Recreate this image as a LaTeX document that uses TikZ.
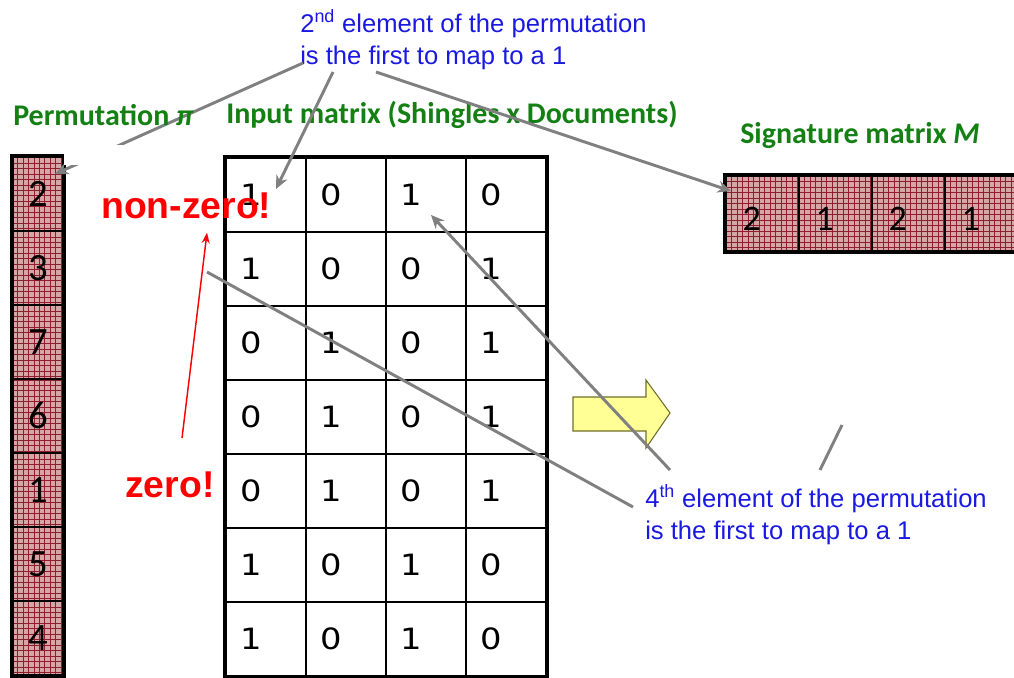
\documentclass[tikz,border=0pt]{standalone}
\usepackage{fontspec}
\setmainfont{Liberation Sans}
\newfontfamily\headfont{Carlito}
\newfontfamily\digitfont[FakeStretch=1.15]{DejaVu Sans}
\usetikzlibrary{arrows.meta, positioning, calc}
\definecolor{headgreen}{RGB}{20,128,20}
\definecolor{noteblue}{RGB}{25,25,225}
\definecolor{cellpink}{RGB}{214,166,166}
\definecolor{cellred}{RGB}{140,30,45}
\definecolor{linegray}{RGB}{128,128,128}
\definecolor{arrowyellow}{RGB}{255,255,150}
\definecolor{arrowolive}{RGB}{110,110,40}

\begin{document}
\begin{tikzpicture}[
    x=0.75pt, y=-0.75pt,
    hatched/.style={path picture={
        \fill[cellpink] (path picture bounding box.south west) rectangle (path picture bounding box.north east);
        \draw[cellred, line width=0.25pt, step=4.1pt] (path picture bounding box.south west) grid (path picture bounding box.north east);}},
    permcell/.style={hatched, draw=black, line width=1.5pt, minimum width=37.5pt, minimum height=55.5pt, inner sep=0pt, font=\headfont\fontsize{29}{29}\selectfont},
    sigcell/.style={hatched, draw=black, line width=1.5pt, minimum width=54.75pt, minimum height=56.25pt, text width=30pt, text height=26pt, align=left, inner sep=0pt, font=\headfont\fontsize{27}{27}\selectfont},
    mcell/.style={draw=black, line width=1.5pt, minimum width=60pt, minimum height=55.5pt, text width=38pt, align=left, inner sep=0pt, font=\digitfont\fontsize{22}{22}\selectfont},
    headlbl/.style={font=\headfont\bfseries\fontsize{22.5}{22.5}\selectfont, text=headgreen, inner sep=0pt},
    note/.style={font=\fontsize{19.2}{24}\selectfont, text=noteblue, align=left, inner sep=0pt},
    redlbl/.style={font=\bfseries\fontsize{28}{28}\selectfont, text=red, inner sep=0pt},
    grayarrow/.style={draw=linegray, line width=2.2pt, -{Stealth[length=10pt, width=9pt]}},
    grayline/.style={draw=linegray, line width=2.2pt},
    redarrow/.style={draw=red, line width=1.1pt, -{Stealth[length=8pt, width=6pt]}}
]
\useasboundingbox (0,0) rectangle (1014,678);

% Permutation column
\foreach \v [count=\i] in {2,3,7,6,1,5,4}
  \node[permcell] (p\i) at (38,{120+74*\i}) {\v};
\draw[line width=3pt] (p1.north west) rectangle (p7.south east);

% Input matrix
\foreach \row [count=\r] in {{1,0,1,0},{1,0,0,1},{0,1,0,1},{0,1,0,1},{0,1,0,1},{1,0,1,0},{1,0,1,0}}
  \foreach \v [count=\c] in \row
    \node[mcell] (m\r\c) at ({186+80*\c},{121+74*\r}) {\v};
\draw[line width=3pt] (m11.north west) rectangle (m74.south east);

% Signature matrix
\foreach \v [count=\j] in {2,1,2,1}
  \node[sigcell] (s\j) at ({689.5+73*\j},213.5) {\v};
\draw[line width=3pt] (s1.north west) rectangle (s4.south east);

% Headings
\node[headlbl, anchor=base west] (inlbl) at (226,123) {Input matrix (Shingles x Documents)};
\node[headlbl, anchor=base west] (siglbl) at (740,143) {Signature matrix \textit{M}};

% Big arrow
\draw[fill=arrowyellow, draw=arrowolive, line width=0.8pt] (573,397) -- (646,397) -- (646,380) -- (670,413) -- (646,448) -- (646,431) -- (573,431) -- cycle;

% Notes
\node[note, anchor=north west] (note2) at (300,9) {2\textsuperscript{nd} element of the permutation\\is the first to map to a 1};
\node[note, anchor=north west] (note4) at (645,484) {4\textsuperscript{th} element of the permutation\\is the first to map to a 1};

% Pointers
\coordinate (n2a) at (303,63);
\coordinate (n2b) at (333,72);
\coordinate (n2c) at (376,72);
\coordinate (n4a) at (670,470);
\coordinate (n4b) at (633,507);
\coordinate (n4c) at (820,470);
\coordinate (n4d) at (842,425);
\coordinate (zz) at (207,272);
\draw[grayarrow] (n2a) -- ($(p1.north west)+(43,18)$);
\draw[grayarrow] (n2b) -- ($(m11.north west)+(51,32)$);
\draw[grayarrow] (n2c) -- ($(s1.north west)+(6,16)$);
\draw[grayarrow] (n4a) -- ($(m13.north west)+(46,58)$);
\draw[grayline] (n4b) -- (zz);
\draw[grayline] (n4c) -- (n4d);
\fill[white] (64,145) rectangle (222,165);

\node[headlbl, anchor=base west] (permlbl) at (13,125) {Permutation \textit{π}};

% Zero / non-zero
\node[redlbl, anchor=base west] (nz) at (101,218) {non-zero!};
\node[redlbl, anchor=base west] (z) at (125,497) {zero!};
\draw[redarrow] ($(z.north west)+(57,-33)$) -- ($(nz.south west)+(106,14)$);

\end{tikzpicture}
\end{document}
